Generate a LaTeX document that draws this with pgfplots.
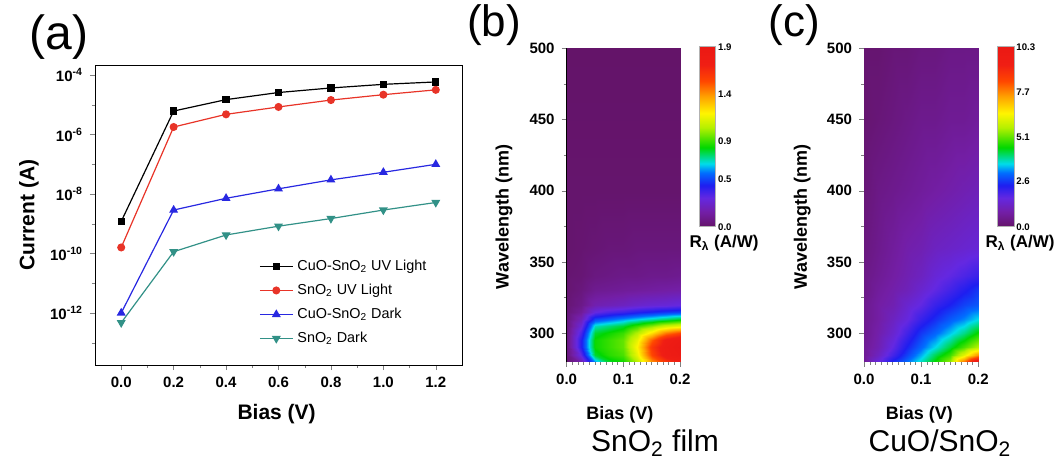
\documentclass[border=0pt]{standalone}
\usepackage{pgfplots}
\pgfplotsset{compat=1.18}
\usepackage{fontspec}
\setmainfont{Liberation Sans}

\definecolor{cuouv}{RGB}{0,0,0}
\definecolor{snouv}{RGB}{232,52,40}
\definecolor{cuodk}{RGB}{40,40,225}
\definecolor{snodk}{RGB}{50,145,135}

\pgfplotsset{
  colormap={origin}{rgb255(0cm)=(100,20,105); rgb255(8cm)=(115,30,165); rgb255(16cm)=(100,40,225);
    rgb255(23cm)=(30,30,240); rgb255(30cm)=(0,110,255); rgb255(35cm)=(0,220,235);
    rgb255(44cm)=(0,215,0); rgb255(55cm)=(180,240,0); rgb255(63cm)=(255,245,0);
    rgb255(72cm)=(255,165,0); rgb255(81cm)=(255,70,0); rgb255(90cm)=(240,30,20); rgb255(100cm)=(235,25,20)},
  mapaxis/.style={
    scale only axis, anchor=south west,
    xmin=0, xmax=0.2, ymin=280, ymax=500,
    xtick={0,0.1,0.2}, minor x tick num=9,
    ytick={300,350,400,450,500}, minor y tick num=1,
    tick align=outside, xtick pos=bottom, ytick pos=left,
    major tick length=2.5pt, minor tick length=1.5pt,
    ticklabel style={font=\bfseries\fontsize{7.5}{8}\selectfont},
    xticklabel style={/pgf/number format/.cd, fixed, fixed zerofill, precision=1, assume math mode=true},
    yticklabel style={/pgf/number format/assume math mode=true},
    xlabel={Bias (V)}, ylabel={Wavelength (nm)},
    label style={font=\bfseries\fontsize{9}{10}\selectfont},
    colorbar,
  },
  cbar/.style={
    at={(parent axis.north east)}, anchor=north west, xshift=1pt, yshift=0.8pt,
    width=8.35pt, height=90pt,
    major tick length=0pt,
    yticklabel style={font=\bfseries\fontsize{4.8}{5}\selectfont, inner sep=1pt},
    axis line style={gray!60, line width=0.3pt},
  },
}

\begin{document}
\begin{tikzpicture}
\useasboundingbox (0,0) rectangle (530.5pt,233.5pt);

% (a) I-V curves
\begin{axis}[
  at={(47.5pt,51pt)}, anchor=south west,
  scale only axis, width=183.5pt, height=150pt,
  ymode=log,
  xmin=-0.1, xmax=1.3, ymin=1.78e-14, ymax=2.19e-4,
  xtick={0,0.2,0.4,0.6,0.8,1.0,1.2},
  minor x tick num=1,
  ytick={1e-12,1e-10,1e-8,1e-6,1e-4},
  yticklabels={10\textsuperscript{-12},10\textsuperscript{-10},10\textsuperscript{-8},10\textsuperscript{-6},10\textsuperscript{-4}},
  minor ytick={1e-13,1e-11,1e-9,1e-7,1e-5},
  tick align=outside, xtick pos=bottom, ytick pos=left,
  major tick length=2.5pt, minor tick length=1.5pt,
  ticklabel style={font=\bfseries\fontsize{7.5}{8}\selectfont},
  xticklabel style={/pgf/number format/.cd, fixed, fixed zerofill, precision=1, assume math mode=true},
  xlabel={Bias (V)}, ylabel={Current (A)},
  label style={font=\bfseries\fontsize{10.5}{12}\selectfont},
  xlabel style={at={(axis description cs:0.495,0)}, anchor=center, yshift=-24.5pt},
  ylabel style={at={(axis description cs:-0.18,0.5)}, anchor=center},
  legend style={at={(0.43,0.379)}, anchor=north west, draw=none, fill=none,
    font=\fontsize{7.2}{8}\selectfont, cells={anchor=west}, row sep=1.3pt},
  legend image code/.code={\draw[mark repeat=2,mark phase=2,#1] plot coordinates {(0pt,0pt) (8.25pt,0pt) (16.5pt,0pt)};},
  every axis plot/.append style={line width=0.6pt},
]
\addplot[color=cuouv, mark=square*, mark size=1.5pt] coordinates {
  (0,1.2e-9) (0.2,6.2e-6) (0.4,1.5e-5) (0.6,2.6e-5) (0.8,3.7e-5) (1.0,4.9e-5) (1.2,5.9e-5)
};
\addlegendentry{CuO-SnO\textsubscript{2} UV Light}
\addplot[color=snouv, mark=*, mark size=1.7pt] coordinates {
  (0,1.6e-10) (0.2,1.8e-6) (0.4,4.8e-6) (0.6,8.5e-6) (0.8,1.45e-5) (1.0,2.2e-5) (1.2,3.2e-5)
};
\addlegendentry{SnO\textsubscript{2} UV Light}
\addplot[color=cuodk, mark=triangle*, mark size=2pt] coordinates {
  (0,1.0e-12) (0.2,2.9e-9) (0.4,7.2e-9) (0.6,1.5e-8) (0.8,3.0e-8) (1.0,5.4e-8) (1.2,1.0e-7)
};
\addlegendentry{CuO-SnO\textsubscript{2} Dark}
\addplot[color=snodk, mark=triangle*, mark options={rotate=180}, mark size=2pt] coordinates {
  (0,4.7e-13) (0.2,1.15e-10) (0.4,4.2e-10) (0.6,8.3e-10) (0.8,1.5e-9) (1.0,2.9e-9) (1.2,5.2e-9)
};
\addlegendentry{SnO\textsubscript{2} Dark}
\end{axis}

% (b) SnO2 film responsivity map
\begin{axis}[
  mapaxis,
  at={(283.3pt,52.65pt)}, width=56.7pt, height=156.7pt,
  xlabel style={at={(axis description cs:0.47,0)}, anchor=center, yshift=-26.7pt},
  ylabel style={at={(axis description cs:-0.553,0.462)}, anchor=center},
  point meta min=0, point meta max=1.9,
  colorbar style={cbar, ytick={0,0.5,0.9,1.4,1.9}, yticklabels={0.0,0.5,0.9,1.4,1.9}},
]
\addplot[surf, shader=interp, mesh/cols=9, point meta=explicit] table[meta=z] {
x y z
0 280 0.02
0.025 280 0.18
0.05 280 0.60
0.075 280 0.80
0.1 280 0.85
0.125 280 1.05
0.15 280 1.40
0.175 280 1.60
0.2 280 1.70
0 285 0.05
0.025 285 0.32
0.05 285 0.80
0.075 285 0.88
0.1 285 0.92
0.125 285 1.15
0.15 285 1.55
0.175 285 1.78
0.2 285 1.85
0 290 0.06
0.025 290 0.42
0.05 290 0.85
0.075 290 0.90
0.1 290 0.95
0.125 290 1.20
0.15 290 1.60
0.175 290 1.80
0.2 290 1.90
0 295 0.06
0.025 295 0.42
0.05 295 0.85
0.075 295 0.90
0.1 295 0.95
0.125 295 1.15
0.15 295 1.50
0.175 295 1.75
0.2 295 1.85
0 300 0.06
0.025 300 0.36
0.05 300 0.80
0.075 300 0.85
0.1 300 0.90
0.125 300 1.05
0.15 300 1.25
0.175 300 1.45
0.2 300 1.55
0 305 0.05
0.025 305 0.28
0.05 305 0.70
0.075 305 0.75
0.1 305 0.80
0.125 305 0.90
0.15 305 1.00
0.175 305 1.10
0.2 305 1.15
0 310 0.05
0.025 310 0.20
0.05 310 0.50
0.075 310 0.55
0.1 310 0.60
0.125 310 0.65
0.15 310 0.70
0.175 310 0.75
0.2 310 0.80
0 315 0.04
0.025 315 0.12
0.05 315 0.30
0.075 315 0.35
0.1 315 0.38
0.125 315 0.42
0.15 315 0.45
0.175 315 0.48
0.2 315 0.50
0 320 0.03
0.025 320 0.08
0.05 320 0.18
0.075 320 0.20
0.1 320 0.22
0.125 320 0.25
0.15 320 0.27
0.175 320 0.28
0.2 320 0.30
0 330 0.02
0.025 330 0.05
0.05 330 0.10
0.075 330 0.11
0.1 330 0.12
0.125 330 0.13
0.15 330 0.14
0.175 330 0.15
0.2 330 0.16
0 340 0.02
0.025 340 0.03
0.05 340 0.06
0.075 340 0.07
0.1 340 0.08
0.125 340 0.08
0.15 340 0.09
0.175 340 0.09
0.2 340 0.10
0 360 0.01
0.025 360 0.02
0.05 360 0.03
0.075 360 0.04
0.1 360 0.04
0.125 360 0.05
0.15 360 0.05
0.175 360 0.05
0.2 360 0.05
0 400 0.01
0.025 400 0.01
0.05 400 0.01
0.075 400 0.01
0.1 400 0.01
0.125 400 0.01
0.15 400 0.01
0.175 400 0.01
0.2 400 0.01
0 500 0
0.025 500 0
0.05 500 0
0.075 500 0
0.1 500 0
0.125 500 0
0.15 500 0
0.175 500 0
0.2 500 0
};
\end{axis}

% (c) CuO/SnO2 responsivity map
\begin{axis}[
  mapaxis,
  at={(432pt,52.65pt)}, width=57.15pt, height=156.7pt,
  xlabel style={at={(axis description cs:0.485,0)}, anchor=center, yshift=-26.7pt},
  ylabel style={at={(axis description cs:-0.54,0.462)}, anchor=center},
  point meta min=0, point meta max=10.3,
  colorbar style={cbar, ytick={0,2.6,5.1,7.7,10.3}, yticklabels={0.0,2.6,5.1,7.7,10.3}},
]
\addplot[surf, shader=interp, mesh/cols=9, point meta=explicit] table[meta=z] {
x y z
0 280 0.6
0.025 280 1.6
0.05 280 2.5
0.075 280 3.1
0.1 280 3.8
0.125 280 4.6
0.15 280 5.5
0.175 280 8.0
0.2 280 10.3
0 285 0.6
0.025 285 1.2
0.05 285 2.0
0.075 285 2.7
0.1 285 3.4
0.125 285 4.2
0.15 285 4.9
0.175 285 6.2
0.2 285 7.6
0 290 0.6
0.025 290 1.0
0.05 290 1.7
0.075 290 2.4
0.1 290 3.0
0.125 290 3.6
0.15 290 4.3
0.175 290 5.0
0.2 290 5.7
0 300 0.5
0.025 300 0.9
0.05 300 1.4
0.075 300 2.0
0.1 300 2.6
0.125 300 3.0
0.15 300 3.5
0.175 300 4.0
0.2 300 4.6
0 310 0.5
0.025 310 0.8
0.05 310 1.2
0.075 310 1.6
0.1 310 2.1
0.125 310 2.5
0.15 310 2.9
0.175 310 3.2
0.2 310 3.6
0 320 0.5
0.025 320 0.8
0.05 320 1.0
0.075 320 1.4
0.1 320 1.7
0.125 320 2.1
0.15 320 2.4
0.175 320 2.7
0.2 320 2.9
0 330 0.4
0.025 330 0.7
0.05 330 0.9
0.075 330 1.1
0.1 330 1.4
0.125 330 1.7
0.15 330 2.0
0.175 330 2.3
0.2 330 2.6
0 340 0.4
0.025 340 0.6
0.05 340 0.8
0.075 340 1.0
0.1 340 1.2
0.125 340 1.5
0.15 340 1.7
0.175 340 1.9
0.2 340 2.1
0 360 0.3
0.025 360 0.5
0.05 360 0.7
0.075 360 0.9
0.1 360 1.0
0.125 360 1.2
0.15 360 1.3
0.175 360 1.4
0.2 360 1.5
0 400 0.2
0.025 400 0.4
0.05 400 0.5
0.075 400 0.6
0.1 400 0.7
0.125 400 0.8
0.15 400 0.9
0.175 400 1.0
0.2 400 1.1
0 450 0.1
0.025 450 0.2
0.05 450 0.3
0.075 450 0.4
0.1 450 0.5
0.125 450 0.5
0.15 450 0.6
0.175 450 0.6
0.2 450 0.7
0 500 0.1
0.025 500 0.1
0.05 500 0.2
0.075 500 0.2
0.1 500 0.3
0.125 500 0.3
0.15 500 0.4
0.175 500 0.4
0.2 500 0.4
};
\end{axis}

% panel letters, colorbar titles and sample names
\node[font=\fontsize{24}{24}\selectfont] at (29.5pt,215pt) {(a)};
\node[font=\fontsize{22}{22}\selectfont] at (247pt,221pt) {(b)};
\node[font=\fontsize{22}{22}\selectfont] at (397pt,221pt) {(c)};
\node[font=\bfseries\fontsize{8.5}{9}\selectfont] at (362pt,112pt) {R\textsubscript{λ} (A/W)};
\node[font=\bfseries\fontsize{8.5}{9}\selectfont] at (510pt,112pt) {R\textsubscript{λ} (A/W)};
\node[font=\fontsize{15}{16}\selectfont] at (327.5pt,12pt) {SnO\textsubscript{2} film};
\node[font=\fontsize{15}{16}\selectfont] at (470pt,12pt) {CuO/SnO\textsubscript{2}};
\end{tikzpicture}
\end{document}
